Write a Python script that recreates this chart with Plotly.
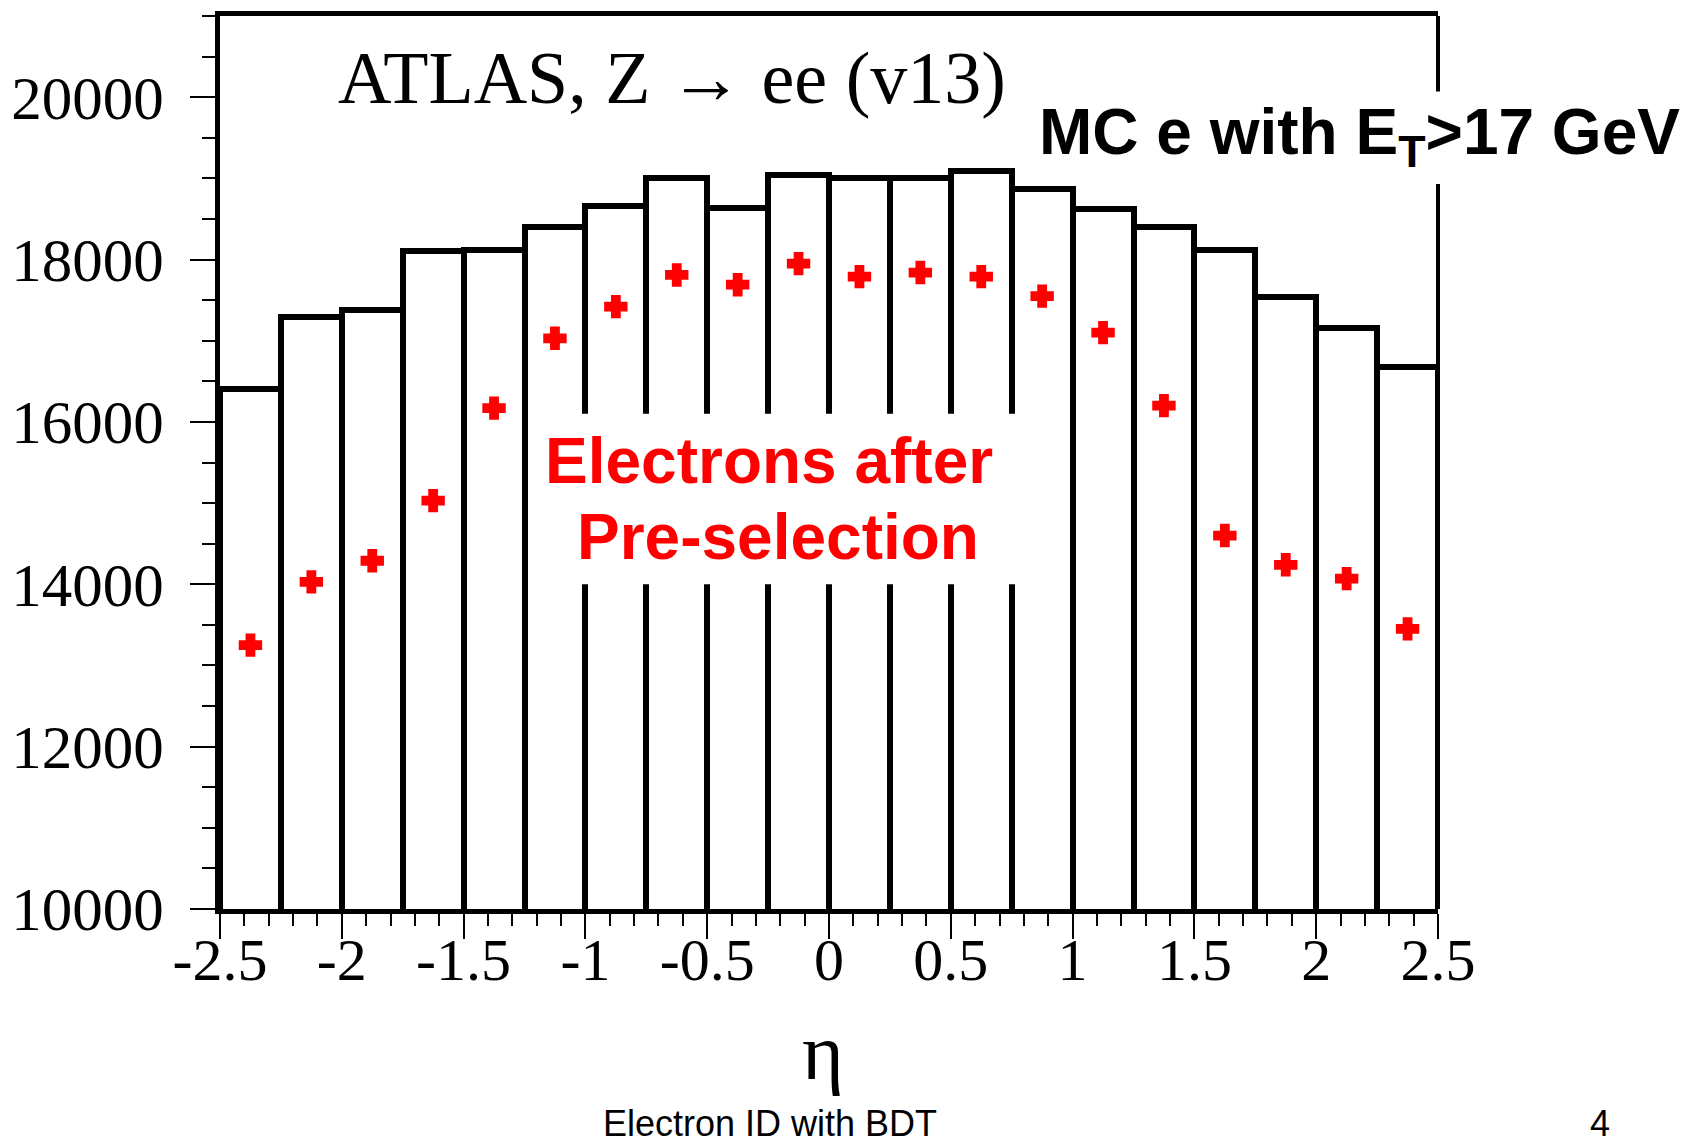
import plotly.graph_objects as go

# ---------------- data ----------------
eta_centers = [-2.375, -2.125, -1.875, -1.625, -1.375, -1.125, -0.875, -0.625, -0.375, -0.125,
               0.125, 0.375, 0.625, 0.875, 1.125, 1.375, 1.625, 1.875, 2.125, 2.375]
bin_width = 0.25
mc_counts = [16410, 17290, 17380, 18110, 18120, 18400, 18660, 19000, 18630, 19040,
             19000, 19000, 19090, 18870, 18620, 18400, 18120, 17540, 17160, 16680]
presel_counts = [13250, 14030, 14290, 15030, 16170, 17030, 17420, 17810, 17690, 17950,
                 17790, 17840, 17790, 17550, 17100, 16200, 14600, 14240, 14070, 13450]
x_tick_vals = [-2.5, -2, -1.5, -1, -0.5, 0, 0.5, 1, 1.5, 2, 2.5]
x_tick_labels = ["-2.5", "-2", "-1.5", "-1", "-0.5", "0", "0.5", "1", "1.5", "2", "2.5"]
y_tick_vals = [10000, 12000, 14000, 16000, 18000, 20000]
y_tick_labels = ["10000", "12000", "14000", "16000", "18000", "20000"]

# ---------------- layout geometry ----------------
W, H = 1684, 1144
ML, MT = 215, 11
MR = W - 1438
MB = H - 909
PW, PH = W - ML - MR, H - MT - MB


def px(x):  # window x -> paper
    return (x - ML) / PW


def py(y):  # window y -> paper
    return 1 - (y - MT) / PH


SERIF = "Liberation Serif, Times New Roman, serif"
SANS = "Liberation Sans, Arial, sans-serif"

fig = go.Figure()
fig.add_trace(go.Bar(
    x=eta_centers, y=mc_counts, width=bin_width,
    marker=dict(color="white", line=dict(color="black", width=6)),
    showlegend=False, hoverinfo="skip",
))
fig.add_trace(go.Scatter(
    x=eta_centers, y=presel_counts, mode="markers",
    marker=dict(symbol="cross", size=17, color="#ff0000",
                line=dict(color="#ff0000", width=3)),
    showlegend=False,
))

fig.update_xaxes(
    range=[-2.5, 2.5], showgrid=False, zeroline=False,
    showline=True, linecolor="black", linewidth=5, mirror=True,
    tickmode="array", tickvals=x_tick_vals, ticktext=x_tick_labels,
    ticks="outside", ticklen=25, tickwidth=2, tickcolor="black",
    tickfont=dict(family=SERIF, size=60, color="black"), ticklabelstandoff=-31,
    minor=dict(tickmode="linear", tick0=-2.5, dtick=0.1, ticks="outside",
               ticklen=12, tickwidth=2, tickcolor="black", showgrid=False),
)
fig.update_yaxes(
    range=[10000, 21000], showgrid=False, zeroline=False,
    showline=True, linecolor="black", linewidth=5, mirror=False,
    tickmode="array", tickvals=y_tick_vals, ticktext=y_tick_labels,
    ticks="outside", ticklen=25, tickwidth=2, tickcolor="black",
    tickfont=dict(family=SERIF, size=61, color="black"), ticklabelstandoff=14,
    minor=dict(tickmode="linear", tick0=10000, dtick=500, ticks="outside",
               ticklen=13, tickwidth=2, tickcolor="black", showgrid=False),
)

shapes = [
    # right frame line
    dict(type="line", xref="paper", yref="paper", x0=1, x1=1, y0=0, y1=1,
         line=dict(color="black", width=4), layer="above"),
    # white box behind the "MC e" label (breaks the right frame)
    dict(type="rect", xref="paper", yref="paper", x0=px(1030), x1=px(1684),
         y0=py(180), y1=py(87), fillcolor="white", line=dict(width=0), layer="above"),
    # white box behind the red label
    dict(type="rect", xref="x", yref="y", x0=-1.15, x1=0.86, y0=14000, y1=16100,
         fillcolor="white", line=dict(width=0), layer="above"),
]

annotations = [
    dict(text="ATLAS, Z \u2192 ee (v13)", x=px(669), y=py(73),
         font=dict(family=SERIF, size=74, color="black")),
    dict(text="MC e with E<sub>T</sub>&gt;17 GeV", x=px(1359), y=py(132),
         font=dict(family=SANS, size=64, color="black", weight="bold")),
    dict(text="Electrons after", x=px(766), y=py(458),
         font=dict(family=SANS, size=64, color="#ff0000", weight="bold")),
    dict(text="Pre-selection", x=px(775), y=py(535),
         font=dict(family=SANS, size=64, color="#ff0000", weight="bold")),
    dict(text="\u03b7", x=px(820), y=py(1053),
         font=dict(family=SERIF, size=80, color="black")),
    dict(text="Electron ID with BDT", x=px(767), y=py(1125),
         font=dict(family=SANS, size=36, color="black")),
    dict(text="4", x=px(1601), y=py(1125),
         font=dict(family=SANS, size=36, color="black")),
]
for a in annotations:
    a.update(xref="paper", yref="paper", xanchor="center", yanchor="middle",
             showarrow=False)

fig.update_layout(
    width=W, height=H, autosize=False,
    margin=dict(l=ML, r=MR, t=MT, b=MB, pad=0),
    paper_bgcolor="white", plot_bgcolor="white",
    shapes=shapes, annotations=annotations,
    bargap=0,
)

# remove the default 8px page margin so the figure fills the window exactly
fig.write_html(
    "out.html",
    config={"displayModeBar": False},
    post_script="document.body.style.margin='0';document.body.style.overflow='hidden';",
)
